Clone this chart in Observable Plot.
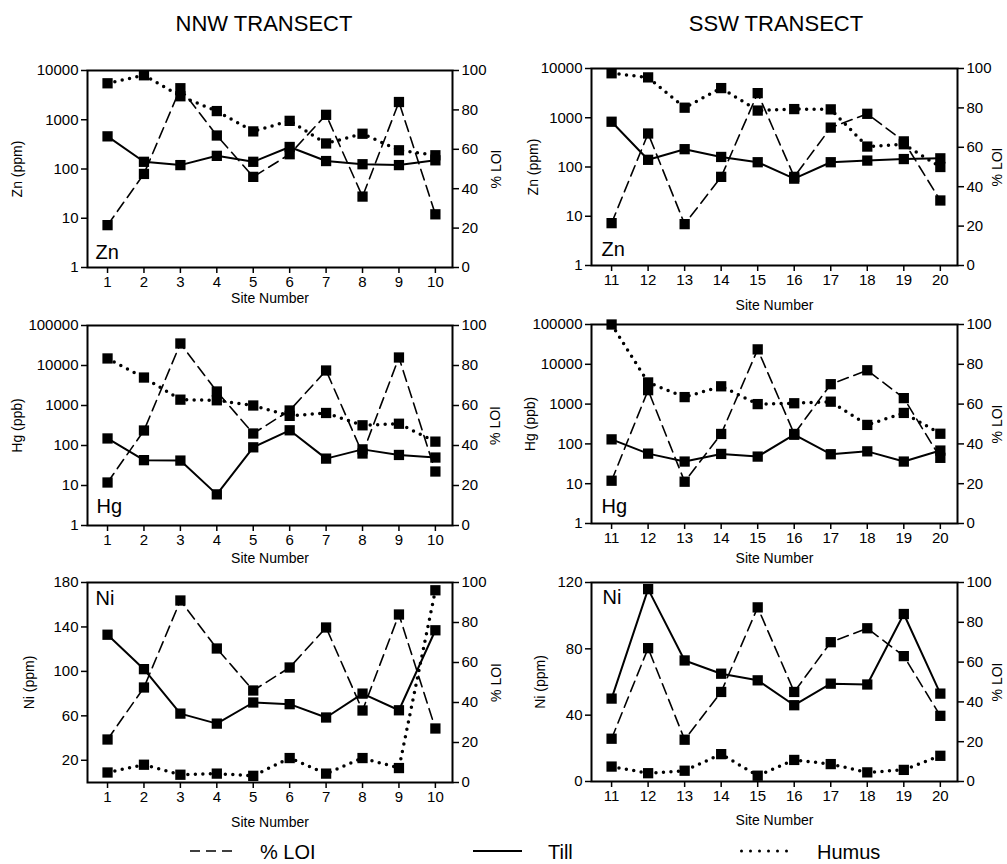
<!DOCTYPE html>
<html><head><meta charset="utf-8">
<script src="https://cdn.jsdelivr.net/npm/d3@7"></script>
<script src="https://cdn.jsdelivr.net/npm/@observablehq/plot@0.6"></script>
<style>
html,body{margin:0;padding:0;background:#fff;}
#root{position:relative;width:1007px;height:864px;overflow:hidden;font-family:"Liberation Sans",Arial,sans-serif;}
#root svg{position:absolute;overflow:visible;}
</style></head>
<body><div id="root"></div>
<script>
// ---------------- data ----------------
const nnwSites = [1, 2, 3, 4, 5, 6, 7, 8, 9, 10];
const sswSites = [11, 12, 13, 14, 15, 16, 17, 18, 19, 20];

const nnwLOI = [21.5, 47.5, 91, 67, 46, 57.5, 77.5, 36, 84, 27];
const sswLOI = [21.5, 67, 21, 45, 87.5, 45, 70, 77, 63, 33];

const nnwZnTill  = [460, 140, 120, 185, 140, 280, 145, 125, 120, 150];
const nnwZnHumus = [5500, 8000, 3000, 1500, 580, 950, 330, 520, 240, 190];
const sswZnTill  = [830, 140, 230, 160, 125, 58, 125, 135, 145, 150];
const sswZnHumus = [8000, 6600, 1600, 4000, 1400, 1500, 1480, 260, 290, 100];

const nnwHgTill  = [150, 43, 42, 6, 90, 240, 47, 80, 58, 50];
const nnwHgHumus = [15000, 5000, 1400, 1350, 1000, 550, 650, 320, 350, 125];
const sswHgTill  = [130, 57, 36, 56, 48, 170, 55, 65, 36, 68];
const sswHgHumus = [100000, 3500, 1500, 2800, 1000, 1050, 1150, 300, 600, 180];

const nnwNiTill  = [133, 102, 62, 53, 72, 70.5, 58.5, 80, 65, 137];
const nnwNiHumus = [9, 16, 7, 8, 6, 22, 8, 22, 13, 173];
const sswNiTill  = [50, 116, 73, 65, 61, 46, 59, 58.5, 101, 53];
const sswNiHumus = [9, 5, 6.5, 16.5, 3.5, 13, 10.5, 5.5, 7, 15.5];

const znTicks = [1, 10, 100, 1000, 10000];
const hgTicks = [1, 10, 100, 1000, 10000, 100000];
const niNnwTicks = [20, 60, 100, 140, 180];
const niSswTicks = [0, 40, 80, 120];
const loiTicks = [0, 20, 40, 60, 80, 100];

const transectTitles = ["NNW TRANSECT", "SSW TRANSECT"];
const legendLabels = ["% LOI", "Till", "Humus"];

// ---------------- layout ----------------
const FONT = '"Liberation Sans", Arial, sans-serif';
const cols = [
  {left: 0, width: 505, mLeft: 87, mRight: 53},
  {left: 500, width: 507, mLeft: 91, mRight: 50}
];

const panels = [
  {col: 0, fTop: 70, fBot: 267, sites: nnwSites, loi: nnwLOI, till: nnwZnTill, humus: nnwZnHumus,
   type: "log", domain: [1, 10000], ticks: znTicks, yLabel: "Zn (ppm)", elem: "Zn", elemTop: false,
   elemDx: 8, elemDy: -9, yLabelDx: 70, loiDx: 44, siteDy: 31},
  {col: 1, fTop: 68, fBot: 265, sites: sswSites, loi: sswLOI, till: sswZnTill, humus: sswZnHumus,
   type: "log", domain: [1, 10000], ticks: znTicks, yLabel: "Zn (ppm)", elem: "Zn", elemTop: false,
   elemDx: 10, elemDy: -10, yLabelDx: 58, loiDx: 40, siteDy: 40},
  {col: 0, fTop: 325, fBot: 525, sites: nnwSites, loi: nnwLOI, till: nnwHgTill, humus: nnwHgHumus,
   type: "log", domain: [1, 100000], ticks: hgTicks, yLabel: "Hg (ppb)", elem: "Hg", elemTop: false,
   elemDx: 9, elemDy: -13, yLabelDx: 70, loiDx: 43, siteDy: 33},
  {col: 1, fTop: 324, fBot: 523, sites: sswSites, loi: sswLOI, till: sswHgTill, humus: sswHgHumus,
   type: "log", domain: [1, 100000], ticks: hgTicks, yLabel: "Hg (ppb)", elem: "Hg", elemTop: false,
   elemDx: 10, elemDy: -11, yLabelDx: 61, loiDx: 40, siteDy: 35},
  {col: 0, fTop: 582, fBot: 782, sites: nnwSites, loi: nnwLOI, till: nnwNiTill, humus: nnwNiHumus,
   type: "linear", domain: [0, 180], ticks: niNnwTicks, yLabel: "Ni (ppm)", elem: "Ni", elemTop: true,
   elemDx: 8, elemDy: 8, yLabelDx: 58, loiDx: 44, siteDy: 40},
  {col: 1, fTop: 582, fBot: 781, sites: sswSites, loi: sswLOI, till: sswNiTill, humus: sswNiHumus,
   type: "linear", domain: [0, 120], ticks: niSswTicks, yLabel: "Ni (ppm)", elem: "Ni", elemTop: true,
   elemDx: 11, elemDy: 7, yLabelDx: 51, loiDx: 40, siteDy: 39}
];

const root = document.getElementById("root");
const fmt = d3.format("d");
const SQ = 5.8;

function place(svg, left, top) {
  svg.style.left = left + "px";
  svg.style.top = top + "px";
  svg.style.background = "transparent";
  svg.style.fontFamily = FONT;
  svg.style.color = "#000";
  root.appendChild(svg);
}

for (const p of panels) {
  const c = cols[p.col];
  const mTop = 30, mBot = 60;
  const top = p.fTop - mTop;
  const height = p.fBot - top + mBot;
  const rows = p.sites.map((s, i) => ({site: s, till: p.till[i], humus: p.humus[i], loi: p.loi[i]}));
  const common = {
    width: c.width, height, marginLeft: c.mLeft, marginRight: c.mRight, marginTop: mTop, marginBottom: mBot
  };
  const xDomain = [p.sites[0] - 0.55, p.sites[p.sites.length - 1] + 0.47];

  const base = Plot.plot({
    ...common,
    x: {domain: xDomain},
    y: {type: p.type, domain: p.domain},
    marks: [
      Plot.axisX({ticks: p.sites, tickFormat: fmt, label: null, fontSize: 15, tickSize: 6, tickPadding: 3, strokeWidth: 1.5}),
      Plot.axisY({ticks: p.ticks, tickFormat: fmt, label: null, fontSize: 15, tickSize: 6, tickPadding: 3, strokeWidth: 1.5}),
      Plot.text(["Site Number"], {text: d => d, frameAnchor: "bottom", lineAnchor: "middle", dy: p.siteDy, fontSize: 14}),
      Plot.text([p.yLabel], {text: d => d, frameAnchor: "left", rotate: -90, textAnchor: "middle", lineAnchor: "middle", dx: -p.yLabelDx, fontSize: 14}),
      Plot.line(rows, {x: "site", y: "humus", stroke: "black", strokeWidth: 3.5, strokeDasharray: "0,7.5", strokeLinecap: "round"}),
      Plot.line(rows, {x: "site", y: "till", stroke: "black", strokeWidth: 2}),
      Plot.dot(rows, {x: "site", y: "humus", symbol: "square", fill: "black", r: SQ}),
      Plot.dot(rows, {x: "site", y: "till", symbol: "square", fill: "black", r: SQ}),
      Plot.text([p.elem], {text: d => d, frameAnchor: p.elemTop ? "top-left" : "bottom-left", dx: p.elemDx, dy: p.elemDy, fontSize: 20}),
      Plot.frame({stroke: "black", strokeWidth: 2})
    ]
  });
  place(base, c.left, top);

  const loiPlot = Plot.plot({
    ...common,
    x: {domain: xDomain, axis: null},
    y: {domain: [0, 100]},
    marks: [
      Plot.axisY({anchor: "right", ticks: loiTicks, tickFormat: fmt, label: null, fontSize: 15, tickSize: 6, tickPadding: 3, strokeWidth: 1.5}),
      Plot.text(["% LOI"], {text: d => d, frameAnchor: "right", rotate: -90, textAnchor: "middle", lineAnchor: "middle", dx: p.loiDx, fontSize: 14}),
      Plot.line(rows, {x: "site", y: "loi", stroke: "black", strokeWidth: 1.6, strokeDasharray: "11,6"}),
      Plot.dot(rows, {x: "site", y: "loi", symbol: "square", fill: "black", r: SQ})
    ]
  });
  place(loiPlot, c.left, top);
}

// ---------------- titles and legend ----------------
const over = d3.create("svg").attr("width", 1007).attr("height", 864)
  .style("left", "0px").style("top", "0px").style("font-family", FONT);
over.append("text").attr("x", 264).attr("y", 31).attr("text-anchor", "middle")
  .attr("font-size", 22).text(transectTitles[0]);
over.append("text").attr("x", 776).attr("y", 31).attr("text-anchor", "middle")
  .attr("font-size", 22).text(transectTitles[1]);

const lg = over.append("g");
lg.append("line").attr("x1", 190).attr("x2", 232).attr("y1", 851).attr("y2", 851)
  .attr("stroke", "black").attr("stroke-width", 1.5).attr("stroke-dasharray", "10,6");
lg.append("text").attr("x", 260).attr("y", 859).attr("font-size", 20).text(legendLabels[0]);
lg.append("line").attr("x1", 473).attr("x2", 522).attr("y1", 851).attr("y2", 851)
  .attr("stroke", "black").attr("stroke-width", 2);
lg.append("text").attr("x", 548).attr("y", 859).attr("font-size", 20).text(legendLabels[1]);
lg.append("line").attr("x1", 741.5).attr("x2", 787).attr("y1", 851).attr("y2", 851)
  .attr("stroke", "black").attr("stroke-width", 3).attr("stroke-linecap", "round").attr("stroke-dasharray", "0,9");
lg.append("text").attr("x", 817).attr("y", 859).attr("font-size", 20).text(legendLabels[2]);
root.appendChild(over.node());
</script>
</body></html>
